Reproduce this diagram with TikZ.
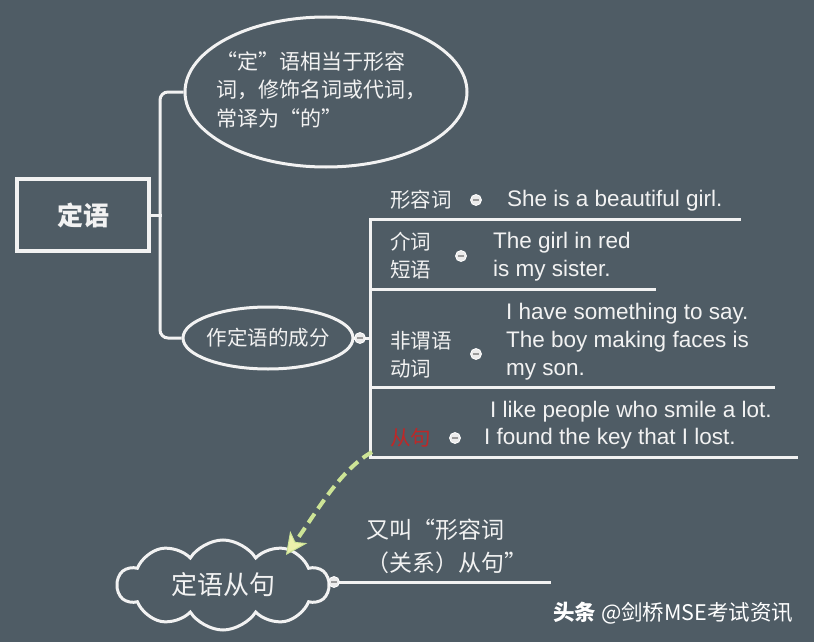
\documentclass[tikz,border=0pt]{standalone}
\usepackage{fontspec}
\setmainfont{Liberation Sans}
\newfontfamily\cjk{Noto Sans CJK SC}
\usetikzlibrary{shapes.geometric,shapes.symbols,arrows.meta}
\definecolor{bg}{RGB}{79,92,101}
\definecolor{fg}{RGB}{242,242,242}
\definecolor{redt}{RGB}{190,40,40}
\definecolor{dashc}{RGB}{205,228,150}
\definecolor{headc}{RGB}{236,240,172}
\definecolor{dotc}{RGB}{236,236,236}
\begin{document}
\begin{tikzpicture}[x=1pt,y=-1pt,
  line/.style={draw=fg, line width=3pt, line cap=rect},
  zh/.style={font=\cjk\fontsize{20.5}{28}\selectfont, text=fg, inner sep=0, align=left},
  en/.style={font=\fontsize{22.5}{28}\selectfont, text=fg, inner sep=0, align=left},
  knob/.style={circle, fill=dotc, draw=white, line width=0.8pt, minimum size=11pt, inner sep=0,
    path picture={\draw[gray!80, line width=1.2pt] ([xshift=-2.6pt]path picture bounding box.center) -- ([xshift=2.6pt]path picture bounding box.center);}},
]
\useasboundingbox (0,0) rectangle (814,642);
\fill[bg] (0,0) rectangle (814,642);

% root box
\node[draw=fg, line width=3.5pt, minimum width=132, minimum height=72, inner sep=0,
  font=\cjk\bfseries\fontsize{26}{26}\selectfont, text=fg] (root) at (83,215) {定语};

% definition ellipse
\node[ellipse, draw=fg, line width=3pt, minimum width=282, minimum height=150, inner sep=0,
  font=\cjk\fontsize{21}{28.5}\selectfont, text=fg] (def) at (326,92)
  {\makebox[0pt]{\hspace{-9pt}\begin{tabular}{@{}l@{}}“定”语相当于形容\\词，修饰名词或代词，\\常译为“的”\end{tabular}}};

% component ellipse
\node[ellipse, draw=fg, line width=3pt, minimum width=170, minimum height=62, inner sep=0,
  font=\cjk\fontsize{20.5}{20.5}\selectfont, text=fg] (comp) at (268,338) {\makebox[0pt]{作定语的成分}};

\coordinate (jx) at (160,215);
\draw[line] (root.east) -- (jx);
\draw[draw=fg, line width=3pt, rounded corners=8pt] (def.west) -| (jx) |- (comp.west);

% right structure
\coordinate (vm) at (370,338);
\coordinate (vt) at (370,219);
\coordinate (vb) at (370,457);
\coordinate (u1) at (739,219);
\coordinate (u2s) at (370,289);
\coordinate (u2) at (654,289);
\coordinate (u3s) at (370,387);
\coordinate (u3) at (773,387);
\coordinate (u4) at (796,457);
\draw[line] (comp.east) -- (vm);
\draw[line] (vt) -- (vb);
\draw[line] (vt) -- (u1);
\draw[line] (u2s) -- (u2);
\draw[line] (u3s) -- (u3);
\draw[line] (vb) -- (u4);
\node[knob] (k0) at (360,338) {};

% row labels
\node[zh, anchor=west] (l1) at (390,200) {形容词};
\node[zh, anchor=west] (l2) at (390,256) {介词\\短语};
\node[zh, anchor=west] (l3) at (390,355) {非谓语\\动词};
\node[zh, anchor=west, text=redt] (l4) at (390,438) {从句};

\node[knob] (k1) at (476,200) {};
\node[knob] (k2) at (461,256) {};
\node[knob] (k3) at (476,354) {};
\node[knob] (k4) at (455,438) {};

% examples
\node[en, anchor=west] (e1) at (507,201) {She is a beautiful girl.};
\node[en, anchor=west] (e2) at (493,257) {The girl in red\\is my sister.};
\node[en, anchor=west] (e3) at (506,342) {I have something to say.\\The boy making faces is\\my son.};
\node[en, anchor=west] (e4a) at (490,412) {I like people who smile a lot.};
\node[en, anchor=west] (e4b) at (484,439) {I found the key that I lost.};

% cloud
\node[cloud, cloud puffs=10, cloud puff arc=115, aspect=2.6, draw=fg, line width=3pt,
  minimum width=211, minimum height=90, inner sep=0,
  font=\cjk\fontsize{26}{26}\selectfont, text=fg] (cl) at (223,585) {\makebox[0pt]{定语从句}};
\coordinate (cs) at (330,582);
\coordinate (ce) at (549,582);
\draw[line] (cs) -- (ce);
\node[knob] (kc) at (334,582) {};
\node[font=\cjk\fontsize{23}{33}\selectfont, text=fg, anchor=west, align=left, inner sep=0] (alias)
  at (366,546) {又叫“形容词\\（关系）从句”};

% dashed arrow
\coordinate (as) at (372,452);
\coordinate (tip) at (286,555);
\draw[dashc, line width=4pt, dash pattern=on 11pt off 6pt,
  -{Stealth[length=22pt,width=21pt,inset=6pt,fill=headc,line width=1pt]}]
  (as) .. controls (340,470) and (318,510) .. (tip);

% watermark
\node[anchor=west, inner sep=0, text=white, font=\cjk\fontsize{21.5}{21.5}\selectfont] (wm)
  at (553,613) {{\bfseries 头条} @剑桥MSE考试资讯};
\end{tikzpicture}
\end{document}
